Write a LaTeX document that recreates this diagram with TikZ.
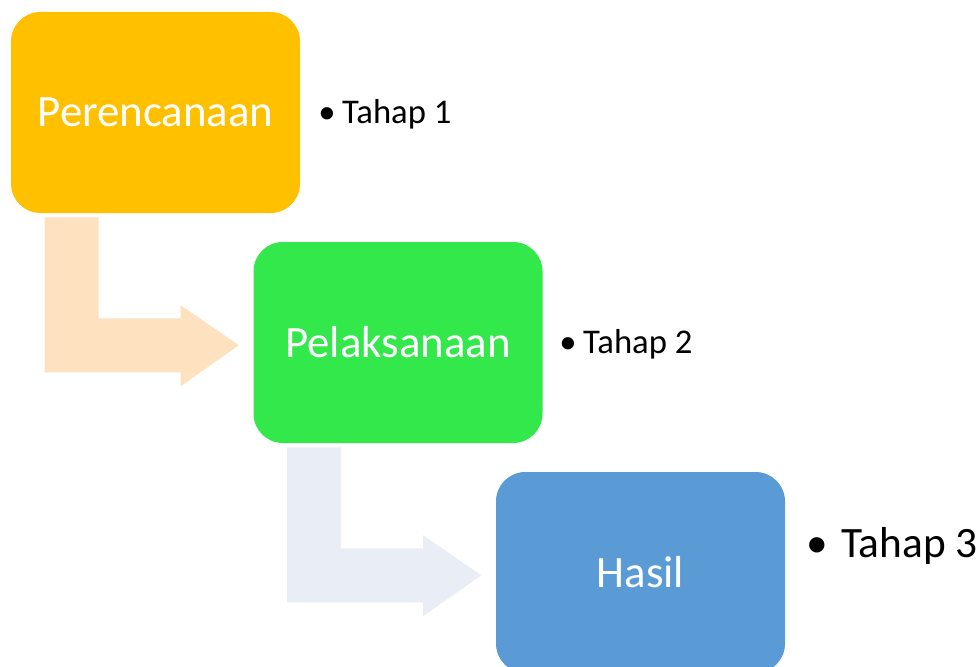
\documentclass[tikz,border=0pt]{standalone}
\usepackage{fontspec}
\setmainfont{Carlito}
\usetikzlibrary{positioning}

\definecolor{planc}{HTML}{FFC000}
\definecolor{execc}{HTML}{32E84A}
\definecolor{resc}{HTML}{5B9BD5}
\definecolor{arrowA}{HTML}{FEE1BE}
\definecolor{arrowB}{HTML}{E9EDF6}

\tikzset{
  stage/.style={rounded corners=22pt, minimum width=216.75pt, minimum height=150.75pt,
    inner sep=0pt, text=white, font=\fontsize{33.6}{40}\selectfont},
  steplabel/.style={anchor=base west, inner sep=0pt, font=\fontsize{26}{30}\selectfont},
}

\begin{document}
\begin{tikzpicture}[x=0.75pt, y=-0.75pt]
  \useasboundingbox (0,0) rectangle (979,667);
  %stages
    \node[stage, fill=planc] (plan) at (155.5,112.5) {Perencanaan};
    \node[stage, fill=execc] (exec) at (398,342.5) {Pelaksanaan};
    \node[stage, fill=resc] (res) at (640.5,572.5) {Hasil};
  %bent arrows
    \foreach \src/\col in {plan/arrowA, exec/arrowB}
      \fill[\col] ([xshift=25.5pt, yshift=-3pt]\src.south west) -- ++(54,0) -- ++(0,101) -- ++(82,0) -- ++(0,-13)
        -- ++(58,40) -- ++(-58,41) -- ++(0,-14) -- ++(-136,0) -- cycle;
  %labels
    \node[steplabel] (t1) at (318,123) {•\hspace{5pt}Tahap 1};
    \node[steplabel] (t2) at (559,353) {•\hspace{5pt}Tahap 2};
    \node[steplabel, font=\fontsize{32.5}{38}\selectfont] (t3) at (806,557) {•\hspace{10pt}Tahap 3};
  \end{tikzpicture}
\end{document}
